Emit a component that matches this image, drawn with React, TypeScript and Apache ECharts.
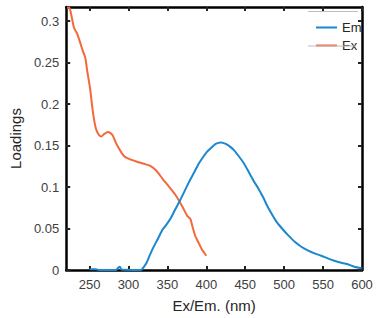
import React, { useEffect, useRef } from "react";
import * as echarts from "echarts";

const xTicks = [250, 300, 350, 400, 450, 500, 550, 600];
const yTicks = [0, 0.05, 0.1, 0.15, 0.2, 0.25, 0.3];

const emData: [number, number][] = [
  [250, 0.001], [258, 0.001], [262, 0], [284, 0], [287, 0.003], [289, 0.004], [291, 0.0005],
  [316, 0], [320, 0.004], [323.4, 0.009], [327, 0.017], [331.8, 0.027], [338, 0.038],
  [344, 0.049], [349, 0.055], [354.6, 0.063], [360, 0.073], [365, 0.0816], [371, 0.093],
  [377.5, 0.1056], [384, 0.117], [390, 0.1277], [395, 0.135], [400.3, 0.1418], [406, 0.147],
  [412, 0.152], [419, 0.1538], [425, 0.152], [430, 0.149], [435.5, 0.1445], [441, 0.138],
  [448, 0.129], [454, 0.119], [460.5, 0.108], [467, 0.098], [473, 0.0876], [479, 0.076],
  [485.4, 0.0654], [491, 0.057], [497.8, 0.0494], [505, 0.042], [514.4, 0.0333], [522, 0.028],
  [531, 0.0233], [539, 0.02], [547.7, 0.0172], [556, 0.014], [564.3, 0.0112], [572, 0.009],
  [580.9, 0.0072], [590, 0.004], [599.6, 0.002],
];

const exData: [number, number][] = [
  [221, 0.316], [224, 0.316], [226, 0.31], [230, 0.292], [234, 0.285], [238, 0.274],
  [241, 0.265], [244.5, 0.256], [247, 0.24], [250.8, 0.218], [253, 0.2], [255, 0.186],
  [257, 0.175], [259, 0.168], [262, 0.163], [265, 0.161], [269, 0.164], [273.4, 0.1662],
  [276, 0.1655], [279.8, 0.162], [284, 0.153], [288, 0.146], [292, 0.14], [296, 0.136],
  [303, 0.133], [311, 0.1305], [320, 0.128], [327.5, 0.1257], [335.9, 0.1196], [344, 0.1096],
  [350, 0.103], [354.6, 0.0976], [360, 0.091], [365, 0.0835], [370, 0.075], [375.4, 0.0654],
  [379.5, 0.0614], [382, 0.053], [385.7, 0.0413], [390, 0.033], [394, 0.0253], [400, 0.0172],
];

const FONT = "Liberation Sans, Arial, sans-serif";

export default function App() {
  const ref = useRef<HTMLDivElement>(null);
  useEffect(() => {
    if (!ref.current) return;
    const chart = echarts.init(ref.current, undefined, { renderer: "svg" });
    const axisLine = () => ({ show: true, onZero: false, lineStyle: { color: "#000000", width: 2.5 } });
    const tick = (vals: number[]) => ({
      show: true,
      inside: true,
      length: 4,
      customValues: vals,
      lineStyle: { color: "#222222", width: 2 },
    });
    chart.setOption({
      animation: false,
      grid: { left: 57, right: 16, top: 7, bottom: 47 },
      legend: {
        orient: "vertical",
        left: 311,
        top: 16,
        itemWidth: 21,
        itemHeight: 10,
        itemGap: 5,
        icon: "path://M0,4 L21,4 L21,6 L0,6 Z",
        textStyle: { fontFamily: FONT, fontSize: 13, color: "#262626" },
        data: ["Em", "Ex"],
      },
      graphic: [
        { type: "line", shape: { x1: 308, y1: 11.5, x2: 358, y2: 11.5 }, style: { stroke: "#bdbdbd", lineWidth: 1 }, z: 100 },
        { type: "line", shape: { x1: 308, y1: 46, x2: 356, y2: 46 }, style: { stroke: "#bdbdbd", lineWidth: 1 }, z: 100 },
      ],
      xAxis: [
        {
          type: "value",
          min: 220,
          max: 600,
          position: "bottom",
          axisLine: axisLine(),
          axisTick: tick(xTicks),
          axisLabel: { customValues: xTicks, fontSize: 13, color: "#404040", fontFamily: FONT, margin: 8 },
          splitLine: { show: false },
          name: "Ex/Em. (nm)",
          nameLocation: "middle",
          nameGap: 28,
          nameTextStyle: { fontSize: 15, color: "#262626", fontFamily: FONT },
        },
        {
          type: "value",
          min: 220,
          max: 600,
          position: "top",
          axisLine: axisLine(),
          axisTick: tick(xTicks),
          axisLabel: { show: false },
          splitLine: { show: false },
        },
      ],
      yAxis: [
        {
          type: "value",
          min: 0,
          max: 0.317,
          position: "left",
          axisLine: axisLine(),
          axisTick: tick(yTicks),
          axisLabel: { customValues: yTicks, fontSize: 13, color: "#404040", fontFamily: FONT, margin: 7 },
          splitLine: { show: false },
          name: "Loadings",
          nameLocation: "middle",
          nameGap: 37,
          nameTextStyle: { fontSize: 15, color: "#262626", fontFamily: FONT },
        },
        {
          type: "value",
          min: 0,
          max: 0.317,
          position: "right",
          axisLine: axisLine(),
          axisTick: tick(yTicks),
          axisLabel: { show: false },
          splitLine: { show: false },
        },
      ],
      series: [
        {
          name: "Em",
          type: "line",
          data: emData,
          showSymbol: false,
          smooth: 0.2,
          lineStyle: { color: "#1B87CF", width: 2 },
          itemStyle: { color: "#1B87CF" },
          z: 3,
        },
        {
          name: "Ex",
          type: "line",
          data: exData,
          showSymbol: false,
          smooth: 0.2,
          lineStyle: { color: "#F4683A", width: 2 },
          itemStyle: { color: "#F4683A" },
          z: 2,
        },
      ],
    });
    return () => chart.dispose();
  }, []);
  return <div ref={ref} style={{ width: 378, height: 318, position: "absolute", left: 0, top: 0 }} />;
}
